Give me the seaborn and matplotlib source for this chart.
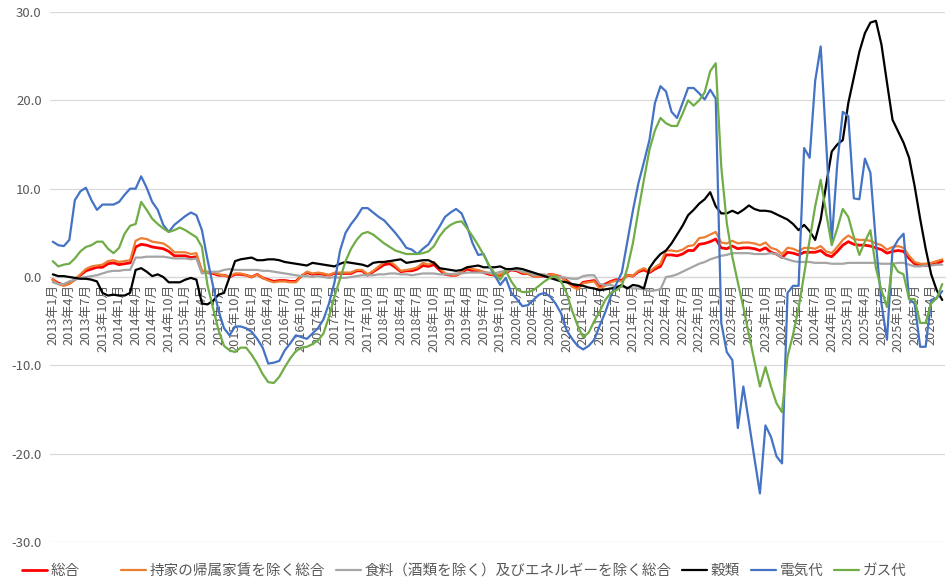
import numpy as np
import matplotlib
matplotlib.use("Agg")
import matplotlib.pyplot as plt
import seaborn as sns

# monthly categories 2013年1月 .. 2026年6月
months = [f"{y}年{m}月" for y in range(2013, 2027) for m in range(1, 13)][:162]

# 総合
sogo = [
    -0.3, -0.7, -0.9, -0.7, -0.3, 0.2, 0.7, 0.9, 1.1, 1.1, 1.5, 1.6,
    1.4, 1.5, 1.6, 3.4, 3.7, 3.6, 3.4, 3.3, 3.2, 2.9, 2.4, 2.4,
    2.4, 2.2, 2.3, 0.6, 0.5, 0.4, 0.2, 0.2, 0.0, 0.3, 0.3, 0.2,
    0.0, 0.3, -0.1, -0.3, -0.5, -0.4, -0.4, -0.5, -0.5, 0.1, 0.5, 0.3,
    0.4, 0.3, 0.2, 0.4, 0.4, 0.4, 0.4, 0.7, 0.7, 0.2, 0.6, 1.0,
    1.4, 1.5, 1.1, 0.6, 0.7, 0.7, 0.9, 1.3, 1.2, 1.4, 0.8, 0.3,
    0.2, 0.2, 0.5, 0.9, 0.7, 0.7, 0.5, 0.3, 0.2, 0.2, 0.5, 0.8,
    0.7, 0.4, 0.4, 0.1, 0.1, 0.1, 0.3, 0.2, 0.0, -0.4, -0.9, -1.2,
    -0.6, -0.5, -0.4, -1.1, -0.8, -0.5, -0.3, -0.4, 0.2, 0.1, 0.6, 0.8,
    0.5, 0.9, 1.2, 2.5, 2.5, 2.4, 2.6, 3.0, 3.0, 3.7, 3.8, 4.0,
    4.3, 3.3, 3.2, 3.5, 3.2, 3.3, 3.3, 3.2, 3.0, 3.3, 2.8, 2.6,
    2.2, 2.8, 2.7, 2.5, 2.8, 2.8, 2.8, 3.0, 2.5, 2.3, 2.9, 3.6,
    4.0, 3.7, 3.6, 3.6, 3.5, 3.3, 3.1, 2.7, 2.9, 3.0, 2.9, 2.1,
    1.5, 1.3, 1.3, 1.4, 1.5, 1.8,
]

# 持家の帰属家賃を除く総合
mochiie = [
    -0.3, -0.8, -1.0, -0.8, -0.3, 0.3, 0.9, 1.2, 1.3, 1.4, 1.8, 1.9,
    1.7, 1.8, 1.9, 4.1, 4.4, 4.3, 4.0, 3.9, 3.8, 3.4, 2.8, 2.8,
    2.8, 2.6, 2.7, 0.7, 0.6, 0.5, 0.3, 0.2, 0.0, 0.4, 0.4, 0.2,
    0.0, 0.3, -0.1, -0.4, -0.6, -0.5, -0.5, -0.6, -0.6, 0.1, 0.6, 0.4,
    0.5, 0.4, 0.2, 0.5, 0.5, 0.5, 0.5, 0.8, 0.8, 0.3, 0.7, 1.2,
    1.7, 1.8, 1.3, 0.7, 0.8, 0.9, 1.1, 1.6, 1.4, 1.7, 1.0, 0.4,
    0.3, 0.2, 0.6, 1.1, 0.9, 0.8, 0.6, 0.4, 0.2, 0.3, 0.6, 0.9,
    0.8, 0.5, 0.4, 0.1, 0.1, 0.1, 0.3, 0.2, 0.0, -0.5, -1.1, -1.4,
    -0.7, -0.6, -0.5, -1.3, -1.0, -0.6, -0.4, -0.5, 0.2, 0.1, 0.7, 1.0,
    0.6, 1.1, 1.5, 3.0, 3.0, 2.9, 3.1, 3.5, 3.6, 4.4, 4.5, 4.8,
    5.1, 3.9, 3.8, 4.1, 3.8, 3.9, 3.9, 3.8, 3.6, 3.9, 3.3, 3.1,
    2.6, 3.3, 3.2, 2.9, 3.3, 3.3, 3.2, 3.5, 2.9, 2.7, 3.4, 4.2,
    4.7, 4.3, 4.2, 4.2, 4.1, 3.8, 3.6, 3.1, 3.4, 3.5, 3.3, 2.4,
    1.7, 1.5, 1.5, 1.6, 1.8, 2.0,
]

# 食料（酒類を除く）及びエネルギーを除く総合
core_core = [
    -0.6, -0.8, -0.8, -0.5, -0.3, -0.1, 0.0, 0.1, 0.2, 0.4, 0.6, 0.7,
    0.7, 0.8, 0.8, 2.2, 2.2, 2.3, 2.3, 2.3, 2.3, 2.2, 2.1, 2.1,
    2.1, 2.0, 2.1, 0.4, 0.5, 0.6, 0.6, 0.8, 0.9, 0.8, 0.8, 0.8,
    0.8, 0.8, 0.7, 0.7, 0.6, 0.5, 0.4, 0.3, 0.2, 0.1, 0.1, 0.0,
    0.1, 0.0, -0.1, 0.0, -0.1, -0.1, 0.0, 0.1, 0.2, 0.2, 0.2, 0.3,
    0.3, 0.4, 0.4, 0.3, 0.3, 0.2, 0.3, 0.4, 0.4, 0.4, 0.3, 0.3,
    0.3, 0.4, 0.4, 0.5, 0.5, 0.5, 0.5, 0.5, 0.4, 0.6, 0.7, 0.8,
    0.8, 0.6, 0.6, 0.2, 0.3, 0.3, 0.0, -0.1, 0.0, -0.1, -0.2, -0.2,
    0.1, 0.2, 0.2, -0.8, -0.9, -0.9, -1.1, -1.1, -1.2, -1.3, -1.3, -1.4,
    -1.6, -1.5, -1.4, 0.0, 0.1, 0.3, 0.6, 0.9, 1.2, 1.5, 1.7, 2.0,
    2.2, 2.4, 2.5, 2.7, 2.7, 2.7, 2.7, 2.6, 2.6, 2.6, 2.7, 2.6,
    2.2, 2.0, 1.8, 1.7, 1.7, 1.7, 1.6, 1.6, 1.6, 1.5, 1.5, 1.5,
    1.6, 1.6, 1.6, 1.6, 1.6, 1.6, 1.5, 1.5, 1.5, 1.6, 1.6, 1.4,
    1.2, 1.2, 1.3, 1.3, 1.4, 1.4,
]

# 穀類
kokurui = [
    0.3, 0.1, 0.1, 0.0, -0.1, -0.2, -0.2, -0.3, -0.5, -1.8, -2.1, -2.0,
    -2.1, -2.1, -1.8, 0.8, 1.0, 0.6, 0.1, 0.3, 0.0, -0.6, -0.6, -0.6,
    -0.3, -0.1, -0.3, -3.0, -3.1, -2.7, -2.0, -1.8, 0.0, 1.8, 2.0, 2.1,
    2.2, 1.9, 1.9, 2.0, 2.0, 1.9, 1.7, 1.6, 1.5, 1.4, 1.3, 1.6,
    1.5, 1.4, 1.3, 1.2, 1.5, 1.7, 1.6, 1.5, 1.4, 1.2, 1.6, 1.7,
    1.7, 1.8, 1.9, 2.0, 1.6, 1.7, 1.8, 1.9, 1.9, 1.6, 1.0, 0.9,
    0.8, 0.7, 0.8, 1.1, 1.2, 1.3, 1.1, 1.1, 1.1, 1.2, 0.9, 0.9,
    1.0, 0.9, 0.7, 0.5, 0.3, 0.1, -0.1, -0.3, -0.5, -0.6, -0.8, -0.9,
    -1.0, -1.2, -1.3, -1.5, -1.4, -1.3, -1.2, -0.9, -1.3, -0.9, -1.0, -1.3,
    1.0, 1.9, 2.6, 3.0, 3.8, 4.8, 5.8, 7.0, 7.6, 8.3, 8.8, 9.6,
    8.0, 7.2, 7.2, 7.5, 7.2, 7.6, 8.1, 7.7, 7.5, 7.5, 7.4, 7.1,
    6.8, 6.5, 6.0, 5.3, 5.9, 5.2, 4.2, 6.5, 10.5, 14.2, 15.0, 15.5,
    19.7, 22.6, 25.5, 27.6, 28.8, 29.0, 26.3, 22.0, 17.8, 16.5, 15.2, 13.5,
    10.3, 6.6, 3.2, 0.3, -1.5, -2.6,
]

# 電気代
denki = [
    4.0, 3.6, 3.5, 4.2, 8.7, 9.7, 10.1, 8.7, 7.6, 8.2, 8.2, 8.2,
    8.5, 9.3, 10.0, 10.0, 11.4, 10.1, 8.5, 7.6, 5.9, 5.1, 5.9, 6.4,
    6.9, 7.3, 7.0, 5.3, 2.0, -1.0, -3.8, -5.8, -6.6, -5.6, -5.6, -5.8,
    -6.2, -7.0, -8.0, -9.8, -9.7, -9.5, -8.3, -7.5, -6.6, -6.8, -7.0, -6.4,
    -5.8, -4.8, -3.0, -0.6, 3.0, 5.0, 6.0, 6.8, 7.8, 7.8, 7.3, 6.8,
    6.4, 5.7, 5.0, 4.2, 3.3, 3.1, 2.6, 3.2, 3.7, 4.7, 5.7, 6.8,
    7.3, 7.7, 7.2, 5.7, 3.8, 2.5, 2.6, 1.2, 0.2, -0.9, -0.1, -1.8,
    -2.5, -3.3, -3.2, -2.6, -2.0, -1.8, -2.2, -3.0, -4.1, -6.0, -7.0, -7.8,
    -8.2, -7.8, -7.1, -5.5, -4.0, -2.2, -0.8, 0.5, 4.0, 7.5, 10.6, 13.0,
    15.5, 19.7, 21.6, 21.0, 18.7, 18.0, 19.7, 21.4, 21.4, 20.8, 20.1, 21.2,
    20.2, -5.2, -8.5, -9.4, -17.1, -12.4, -16.4, -20.5, -24.5, -16.8, -18.1, -20.3,
    -21.1, -1.8, -1.0, -1.0, 14.6, 13.5, 22.2, 26.1, 15.2, 4.1, 12.8, 18.7,
    18.2, 8.9, 8.8, 13.4, 11.8, 3.8, -3.0, -7.1, 3.1, 4.2, 4.9, -2.5,
    -3.0, -7.9, -7.9, -2.6, -2.4, -1.6,
]

# ガス代
gas = [
    1.8, 1.2, 1.4, 1.5, 2.1, 2.9, 3.4, 3.6, 4.0, 4.0, 3.2, 2.7,
    3.3, 4.9, 5.8, 6.0, 8.5, 7.6, 6.6, 6.0, 5.5, 5.1, 5.3, 5.6,
    5.3, 4.9, 4.5, 3.4, -0.9, -3.5, -6.0, -7.8, -8.3, -8.5, -8.0, -8.0,
    -8.8, -9.8, -11.0, -11.9, -12.0, -11.3, -10.2, -9.2, -8.4, -8.0, -7.9, -7.6,
    -7.2, -6.4, -4.5, -2.2, -0.2, 1.8, 3.2, 4.2, 4.9, 5.1, 4.8, 4.3,
    3.8, 3.4, 3.0, 2.8, 2.6, 2.6, 2.6, 2.7, 2.9, 3.5, 4.6, 5.4,
    5.9, 6.2, 6.3, 5.5, 4.6, 3.6, 2.5, 1.3, 0.4, -0.3, 0.7, -0.5,
    -1.4, -1.7, -1.7, -1.5, -1.0, -0.5, -0.1, 0.1, -0.5, -1.8, -3.8, -5.5,
    -6.8, -6.3, -5.0, -3.9, -2.6, -1.8, -1.5, -1.0, 1.0, 3.8, 7.5, 11.0,
    14.4, 16.6, 18.0, 17.4, 17.1, 17.1, 18.5, 20.0, 19.4, 20.0, 20.9, 23.3,
    24.2, 12.5, 6.1, 2.3, -0.6, -3.4, -6.5, -9.5, -12.4, -10.2, -12.4, -14.3,
    -15.3, -9.0, -6.5, -3.5, 0.3, 4.2, 8.0, 11.0, 7.2, 3.6, 5.5, 7.7,
    6.8, 4.5, 2.5, 4.0, 5.3, 1.0, -1.5, -3.4, 1.6, 0.6, 0.3, -2.5,
    -2.5, -5.2, -5.2, -3.0, -2.4, -0.8,
]

series_names = ["総合", "持家の帰属家賃を除く総合",
                "食料（酒類を除く）及びエネルギーを除く総合",
                "穀類", "電気代", "ガス代"]
series_values = [sogo, mochiie, core_core, kokurui, denki, gas]
series_colors = ["#FF0000", "#ED7D31", "#A5A5A5", "#000000", "#4472C4", "#70AD47"]
series_widths = [2.0, 1.6, 1.6, 1.6, 1.6, 1.6]

y_ticks = [-30, -20, -10, 0, 10, 20, 30]

sns.set_theme(style="white")
plt.rcParams["font.family"] = ["Noto Sans CJK JP", "DejaVu Sans"]
text_color = "#595959"

fig = plt.figure(figsize=(9.53, 5.85), dpi=100)
ax = fig.add_axes([50 / 953, 1 - 542 / 585, 895 / 953, 530 / 585])

x = np.arange(len(months))
for name, vals, color, lw in zip(series_names, series_values,
                                 series_colors, series_widths):
    sns.lineplot(x=x, y=vals, ax=ax, color=color, linewidth=lw, label=name)

ax.set_xlim(-0.5, len(months) - 0.5)
ax.set_ylim(-30, 30)
ax.set_yticks(y_ticks)
ax.set_yticklabels([f"{v:.1f}" for v in y_ticks])
ax.yaxis.grid(True, color="#D9D9D9", linewidth=0.9)
ax.xaxis.grid(False)
ax.set_axisbelow(True)
for side in ["left", "right", "top"]:
    ax.spines[side].set_visible(False)
ax.spines["bottom"].set_position(("data", 0))
ax.spines["bottom"].set_color("#D9D9D9")
ax.spines["bottom"].set_linewidth(0.9)
ax.spines["bottom"].set_zorder(0.5)

ax.set_xticks(x[::3])
ax.set_xticklabels(months[::3], rotation=90)
ax.tick_params(axis="both", length=0)
ax.tick_params(axis="x", pad=5, labelsize=9.2, labelcolor=text_color)
ax.tick_params(axis="y", pad=6, labelsize=9.5, labelcolor=text_color)
ax.set_xlabel("")
ax.set_ylabel("")

# legend: first entry on its own, the rest packed together (as in the source)
handles, labels = ax.get_legend_handles_labels()
leg_style = dict(frameon=False, fontsize=10.5, handlelength=1.7,
                 handletextpad=0.25, borderpad=0, borderaxespad=0,
                 labelcolor=text_color, bbox_transform=fig.transFigure)
leg1 = ax.legend(handles[:1], labels[:1], loc="center left",
                 bbox_to_anchor=(22 / 953, 0.024), ncol=1, **leg_style)
ax.add_artist(leg1)
ax.legend(handles[1:], labels[1:], loc="center left",
          bbox_to_anchor=(121 / 953, 0.024), ncol=5,
          columnspacing=0.75, **leg_style)

fig.savefig("out.png", dpi=100)
